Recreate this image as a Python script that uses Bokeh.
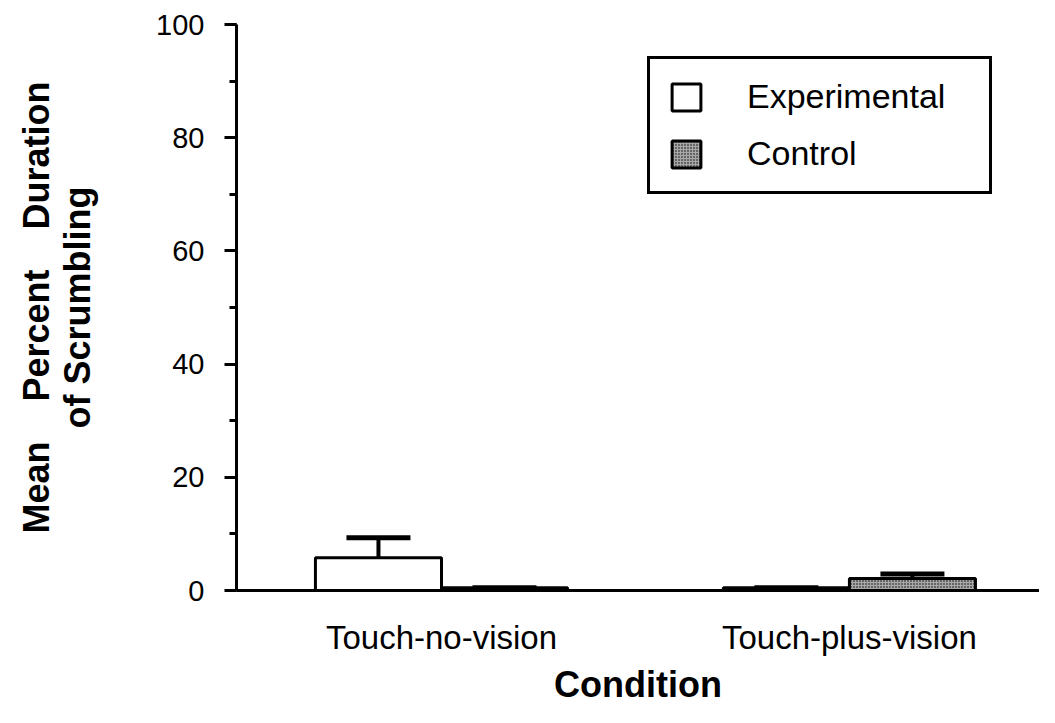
from bokeh.plotting import figure
from bokeh.models import (ColumnDataSource, Range1d, SingleIntervalTicker, FixedTicker,
                          Whisker, TeeHead, Legend, LegendItem)
from bokeh.transform import dodge
from bokeh.embed import file_html
from bokeh.resources import INLINE

conditions = ["Touch-no-vision", "Touch-plus-vision"]
experimental = [5.8, 0.5]
experimental_se = [3.5, 0.0]
control = [0.5, 2.1]
control_se = [0.0, 0.8]
y_ticks_interval = 20

FONT = "Liberation Sans"
BAR_W = 0.309

xpos = [i + 1 for i in range(len(conditions))]

src = ColumnDataSource(dict(
    x=xpos,
    exp=experimental,
    ctl=control,
    exp_up=[m + s for m, s in zip(experimental, experimental_se)],
    ctl_up=[m + s for m, s in zip(control, control_se)],
))

p = figure(width=1039, height=707, x_range=Range1d(0.4975, 2.466),
           y_range=Range1d(0, 100), output_backend="svg", toolbar_location=None,
           min_border_left=236, min_border_right=0, min_border_top=24, min_border_bottom=117)

p.outline_line_color = None
p.xgrid.grid_line_color = None
p.ygrid.grid_line_color = None
p.background_fill_color = "white"
p.border_fill_color = "white"

r_exp = p.vbar(x=dodge("x", -BAR_W / 2), top="exp", width=BAR_W, bottom=0,
               source=src, fill_color="white", line_color="black", line_width=3)
r_ctl = p.vbar(x=dodge("x", BAR_W / 2), top="ctl", width=BAR_W, bottom=0,
               source=src, fill_color="#a8a8a8", line_color="black", line_width=3,
               hatch_pattern="dot", hatch_color="black", hatch_scale=3, hatch_weight=1)

for col, up, off in (("exp", "exp_up", -BAR_W / 2), ("ctl", "ctl_up", BAR_W / 2)):
    w = Whisker(source=src, base=dodge("x", off), lower=col, upper=up,
                line_color="black", line_width=4, lower_head=None,
                upper_head=TeeHead(size=64, line_width=5, line_color="black"))
    p.add_layout(w)

# y axis
p.yaxis.ticker = SingleIntervalTicker(interval=y_ticks_interval, num_minor_ticks=2)
p.yaxis.axis_line_width = 3
p.yaxis.major_tick_line_width = 3
p.yaxis.minor_tick_line_width = 3
p.yaxis.major_tick_out = 12
p.yaxis.major_tick_in = 0
p.yaxis.minor_tick_out = 7
p.yaxis.minor_tick_in = 0
p.yaxis.major_label_text_font = FONT
p.yaxis.major_label_text_font_size = "29px"
p.yaxis.major_label_text_color = "black"
p.yaxis.major_label_standoff = 20
p.yaxis.axis_label = "Mean\u00a0\u00a0\u00a0 Percent\u00a0\u00a0\u00a0 Duration\nof Scrumbling"
p.yaxis.axis_label_text_font = FONT
p.yaxis.axis_label_text_font_size = "36px"
p.yaxis.axis_label_text_font_style = "bold"
p.yaxis.axis_label_text_color = "black"
p.yaxis.axis_label_text_line_height = 1.0
p.yaxis.axis_label_standoff = 55

# x axis
p.xaxis.ticker = FixedTicker(ticks=xpos)
p.xaxis.major_label_overrides = {x: c for x, c in zip(xpos, conditions)}
p.xaxis.axis_line_width = 3
p.xaxis.major_tick_line_color = None
p.xaxis.minor_tick_line_color = None
p.xaxis.major_tick_out = 0
p.xaxis.minor_tick_out = 0
p.xaxis.major_label_text_font = FONT
p.xaxis.major_label_text_font_size = "33px"
p.xaxis.major_label_text_color = "black"
p.xaxis.major_label_standoff = 28
p.xaxis.axis_label = "Condition"
p.xaxis.axis_label_text_font = FONT
p.xaxis.axis_label_text_font_size = "36px"
p.xaxis.axis_label_text_font_style = "bold"
p.xaxis.axis_label_text_color = "black"
p.xaxis.axis_label_standoff = 5

legend = Legend(items=[LegendItem(label="Experimental", renderers=[r_exp]),
                       LegendItem(label="Control", renderers=[r_ctl])],
                location=(411, 396), orientation="vertical")
legend.glyph_width = 36
legend.glyph_height = 34
legend.label_standoff = 43
legend.label_width = 224
legend.label_text_font = FONT
legend.label_text_font_size = "34px"
legend.label_text_color = "black"
legend.padding = 18
legend.spacing = 18
legend.margin = 0
legend.border_line_color = "black"
legend.border_line_alpha = 1
legend.border_line_width = 3
legend.background_fill_color = "white"
legend.background_fill_alpha = 1
p.add_layout(legend, "center")

open("out.html", "w").write(file_html(p, INLINE))
